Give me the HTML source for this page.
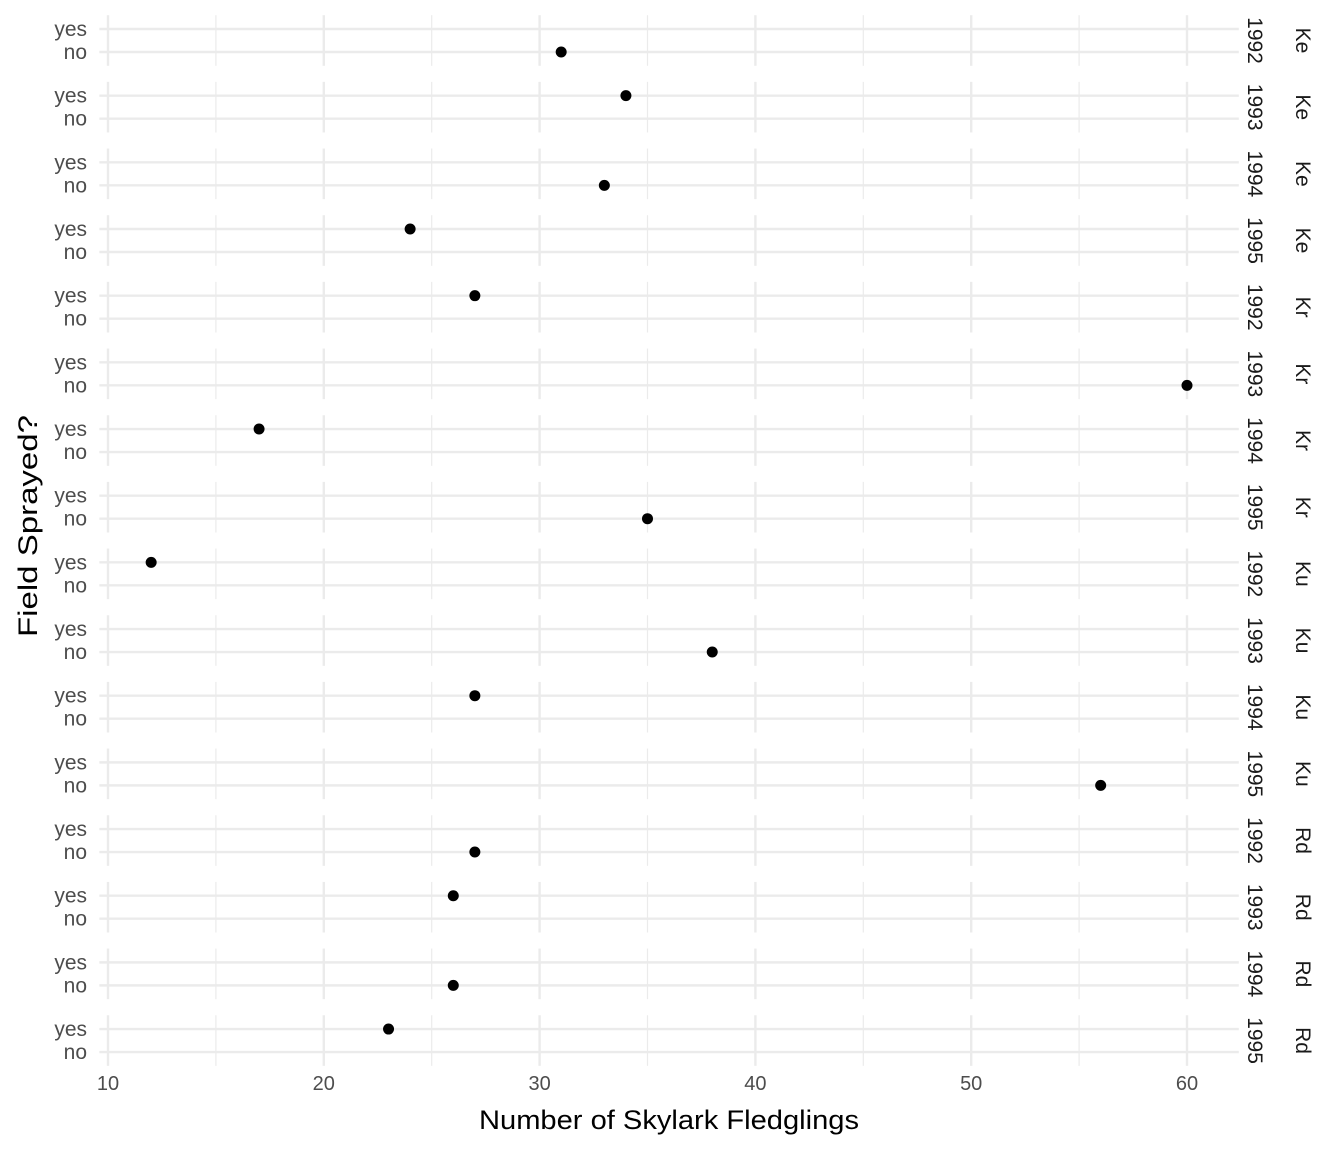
<!DOCTYPE html>
<html><head><meta charset="utf-8"><style>
body{margin:0;background:#fff}
svg{display:block;font-family:"Liberation Sans",sans-serif}
</style></head><body>
<svg id="chart" width="1344" height="1152" xmlns="http://www.w3.org/2000/svg">
<g id="panels"></g>
<text x="669" y="1129" font-size="27" text-anchor="middle" fill="#000" textLength="380" lengthAdjust="spacingAndGlyphs">Number of Skylark Fledglings</text>
<text transform="translate(37,526) rotate(-90)" font-size="27" text-anchor="middle" fill="#000" textLength="222" lengthAdjust="spacingAndGlyphs">Field Sprayed?</text>
</svg>
<script>
const sites=["Ke","Ke","Ke","Ke","Kr","Kr","Kr","Kr","Ku","Ku","Ku","Ku","Rd","Rd","Rd","Rd"];
const years=["1992","1993","1994","1995","1992","1993","1994","1995","1992","1993","1994","1995","1992","1993","1994","1995"];
const sprayed=["no","yes","no","yes","yes","no","yes","no","yes","no","yes","no","no","yes","no","yes"];
const fledglings=[31,34,33,24,27,60,17,35,12,38,27,56,27,26,26,23];
const xTicks=[10,20,30,40,50,60];
const xMinor=[15,25,35,45,55];
const levels=["yes","no"];
const NS="http://www.w3.org/2000/svg";
const x=v=>108+(v-10)*(1187-108)/50;
const xL=x(9.6),xR=x(62.4);
const panelTop=i=>15.2+i*66.67;
const yLev=(i,l)=>panelTop(i)+(l==="yes"?13.8:36.8);
const g=document.getElementById('panels');
function mk(t,a){const e=document.createElementNS(NS,t);for(const k in a)e.setAttribute(k,a[k]);return e;}
for(let i=0;i<fledglings.length;i++){
  const p=mk('g',{});
  
  
  const t=panelTop(i),b=t+50.6;
  xMinor.forEach(v=>{const l=mk('line',{x1:x(v),x2:x(v),y1:t,y2:b,stroke:'#ebebeb','stroke-width':1.2});p.appendChild(l);});
  xTicks.forEach(v=>{const l=mk('line',{x1:x(v),x2:x(v),y1:t,y2:b,stroke:'#ebebeb','stroke-width':2.4});p.appendChild(l);});
  levels.forEach(lv=>{
    const y=yLev(i,lv);
    const l=mk('line',{x1:xL,x2:xR,y1:y,y2:y,stroke:'#ebebeb','stroke-width':2.4});
    p.appendChild(l);
    const tx=mk('text',{x:87,y:y+7,'font-size':21,'text-anchor':'end',fill:'#4d4d4d'});
    tx.textContent=lv;
    p.appendChild(tx);
  });
  const c=mk('circle',{cx:x(fledglings[i]),cy:yLev(i,sprayed[i]),r:5.5,fill:'#000'});
  p.appendChild(c);
  const cy=t+25.3;
  const s1=mk('text',{transform:`translate(1248,${cy}) rotate(90)`,'font-size':21,'text-anchor':'middle',fill:'#1a1a1a'});
  s1.textContent=years[i];
  p.appendChild(s1);
  const s2=mk('text',{transform:`translate(1296,${cy}) rotate(90)`,'font-size':21,'text-anchor':'middle',fill:'#1a1a1a'});
  s2.textContent=sites[i];
  p.appendChild(s2);
  g.appendChild(p);
}
xTicks.forEach(v=>{
  const tx=mk('text',{x:x(v),y:1090,'font-size':20,'text-anchor':'middle',fill:'#4d4d4d'});
  tx.textContent=v;
  
  g.appendChild(tx);
});
</script>
</body></html>
